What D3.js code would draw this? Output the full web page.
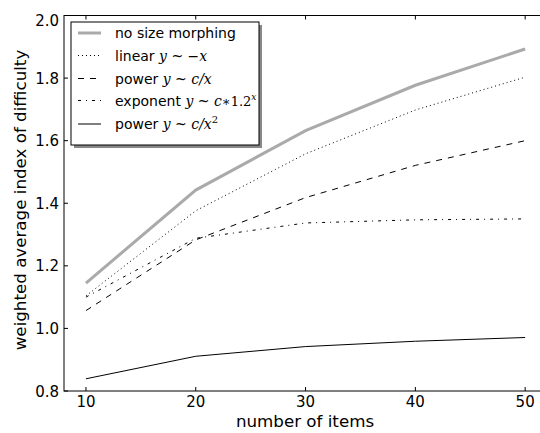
<!DOCTYPE html>
<html><head><meta charset="utf-8">
<script src="https://cdn.jsdelivr.net/npm/d3@7"></script>
<style>body{margin:0;background:#fff}svg{display:block}</style>
</head><body>
<svg id="c" width="540" height="433"></svg>
<script>
const xValues = [10, 20, 30, 40, 50];
const noMorph = [1.145, 1.442, 1.632, 1.777, 1.893];
const linear = [1.104, 1.376, 1.558, 1.698, 1.803];
const powerInv = [1.057, 1.283, 1.418, 1.521, 1.600];
const exponent = [1.100, 1.288, 1.337, 1.347, 1.350];
const powerInv2 = [0.839, 0.911, 0.942, 0.959, 0.971];
const xTicks = [10, 20, 30, 40, 50];
const yTicks = [0.8, 1.0, 1.2, 1.4, 1.6, 1.8, 2.0];

const svg = d3.select("#c");
const L = 64, T = 15.5, B = 391;
const x = d3.scaleLinear().domain([8, 52]).range([L, L + 44 * 10.98]);
const y = d3.scaleLinear().domain([0.8, 2.0]).range([B, T]);

const series = [
  {vals: noMorph, color: "#aaaaaa", w: 3, dash: null},
  {vals: linear, color: "#000", w: 1, dash: "1,3"},
  {vals: powerInv, color: "#000", w: 1, dash: "6,6"},
  {vals: exponent, color: "#000", w: 1, dash: "3,5,1,5"},
  {vals: powerInv2, color: "#000", w: 1, dash: null}
];
const line = d3.line().x((d,i)=>x(xValues[i])).y(d=>y(d));
series.forEach(s=>{
  svg.append("path").attr("d", line(s.vals)).attr("fill","none")
    .attr("stroke", s.color).attr("stroke-width", s.w)
    .attr("stroke-dasharray", s.dash);
});

// frame
const R = x(52);
svg.append("rect").attr("x",L).attr("y",T).attr("width",R-L).attr("height",B-T)
  .attr("fill","none").attr("stroke","#000").attr("stroke-width",1);

// ticks (inward)
const tk = svg.append("g").attr("stroke","#000").attr("stroke-width",1);
xTicks.forEach(t=>{
  tk.append("line").attr("x1",x(t)).attr("x2",x(t)).attr("y1",B).attr("y2",B-4);
  tk.append("line").attr("x1",x(t)).attr("x2",x(t)).attr("y1",T).attr("y2",T+4);
});
yTicks.forEach(t=>{
  tk.append("line").attr("x1",L).attr("x2",L+4).attr("y1",y(t)).attr("y2",y(t));
  tk.append("line").attr("x1",R).attr("x2",R-4).attr("y1",y(t)).attr("y2",y(t));
});
const font = "DejaVu Sans, sans-serif";
xTicks.forEach(t=>{
  svg.append("text").attr("x",x(t)).attr("y",407).attr("text-anchor","middle")
    .attr("font-family",font).attr("font-size",15).text(t);
});
yTicks.forEach(t=>{
  svg.append("text").attr("x",59).attr("y",Math.max(y(t)+5.5, 26)).attr("text-anchor","end")
    .attr("font-family",font).attr("font-size",15).text(t.toFixed(1));
});
svg.append("text").attr("x",305).attr("y",427).attr("text-anchor","middle")
  .attr("font-family",font).attr("font-size",16.7).text("number of items");
svg.append("text").attr("transform","translate(26,200) rotate(-90)").attr("text-anchor","middle")
  .attr("font-family",font).attr("font-size",16.7).text("weighted average index of difficulty");

// legend
const lg = svg.append("g");
lg.append("rect").attr("x",74).attr("y",25).attr("width",188).attr("height",123).attr("fill","#888");
lg.append("rect").attr("x",71).attr("y",22).attr("width",188).attr("height",123)
  .attr("fill","#fff").attr("stroke","#000").attr("stroke-width",1);
const labels = [
  [["no size morphing",0]],
  [["linear ",0],["y",1],[" ~ −",0],["x",1]],
  [["power ",0],["y",1],[" ~ ",0],["c/x",1]],
  [["exponent ",0],["y",1],[" ~ ",0],["c",1],["∗1.2",2],["x",3]],
  [["power ",0],["y",1],[" ~ ",0],["c/x",1],["2",4]]
];
const rows = [33, 55.5, 78.5, 100.5, 124];
series.forEach((s,i)=>{
  lg.append("line").attr("x1",78).attr("x2",101).attr("y1",rows[i]).attr("y2",rows[i])
    .attr("stroke",s.color).attr("stroke-width",s.w).attr("stroke-dasharray",s.dash);
  const t = lg.append("text").attr("x",115).attr("y",rows[i]+5).attr("font-family",font).attr("font-size",14);
  labels[i].forEach(([str,k])=>{
    const sp = t.append("tspan").text(str);
    if (k===1) sp.attr("font-family","DejaVu Serif, serif").attr("font-style","italic").attr("font-size",14);
    if (k===2) sp.attr("font-family","DejaVu Serif, serif").attr("font-size",13);
    if (k===3) sp.attr("font-family","DejaVu Serif, serif").attr("font-style","italic").attr("font-size",9).attr("dy",-6);
    if (k===4) sp.attr("font-family","DejaVu Serif, serif").attr("font-size",10).attr("dy",-6);
  });
});
</script>
</body></html>
